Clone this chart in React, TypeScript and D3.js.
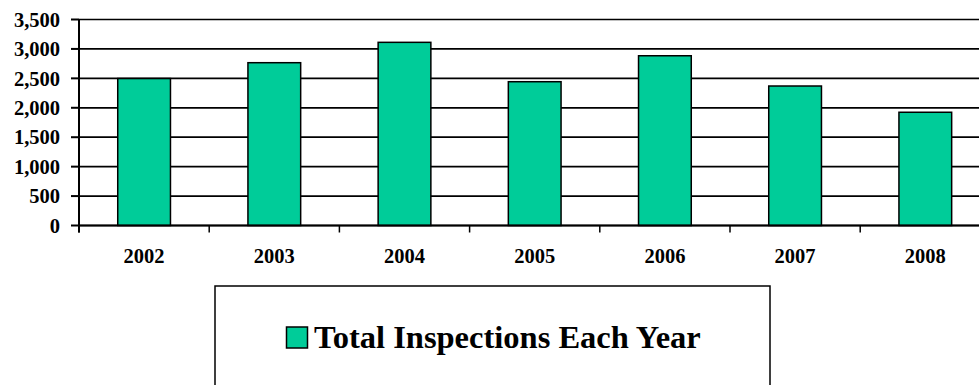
import React from "react";
import * as d3 from "d3";

const years = ["2002", "2003", "2004", "2005", "2006", "2007", "2008"];
const inspections = [2497, 2766, 3112, 2443, 2884, 2370, 1924];
const yTicks = [0, 500, 1000, 1500, 2000, 2500, 3000, 3500];
const legendLabel = "Total Inspections Each Year";

const W = 979;
const H = 385;
const FILL = "#00CC99";
const FONT = "'Liberation Serif', 'Times New Roman', serif";

export default function App() {
  const x0 = 79;
  const step = 130.2;
  const x = d3.scaleBand<string>().domain(years).range([x0, x0 + step * years.length]).padding(0);
  const y = d3.scaleLinear().domain([0, 3500]).range([225.5, 19.5]);
  const barW = x.bandwidth() * 0.405;
  const fmt = d3.format(",");

  return (
    <svg
      width={W}
      height={H}
      style={{ position: "absolute", left: 0, top: 0, display: "block", background: "#fff" }}
    >
      <rect x={0} y={0} width={W} height={H} fill="#fff" />
      {/* gridlines */}
      {yTicks.map((t) => (
        <line key={"g" + t} x1={x0} x2={W + 20} y1={y(t)} y2={y(t)} stroke="#000" strokeWidth={1.7} />
      ))}
      {/* bars */}
      {years.map((yr, i) => {
        const cx = (x(yr) as number) + x.bandwidth() / 2;
        return (
          <rect
            key={yr}
            x={cx - barW / 2}
            y={y(inspections[i])}
            width={barW}
            height={y(0) - y(inspections[i])}
            fill={FILL}
            stroke="#000"
            strokeWidth={1.5}
          />
        );
      })}
      {/* y axis */}
      <line x1={x0} x2={x0} y1={y(3500)} y2={y(0) + 7} stroke="#000" strokeWidth={2} />
      {yTicks.map((t) => (
        <g key={"yt" + t}>
          <line x1={x0 - 8} x2={x0} y1={y(t)} y2={y(t)} stroke="#000" strokeWidth={2} />
          <text
            x={60}
            y={y(t)}
            dy="0.35em"
            textAnchor="end"
            fontFamily={FONT}
            fontWeight="bold"
            fontSize={20.5}
          >
            {fmt(t)}
          </text>
        </g>
      ))}
      {/* x axis */}
      <line x1={x0} x2={W + 20} y1={y(0)} y2={y(0)} stroke="#000" strokeWidth={2} />
      {years.map((yr) => (
        <line
          key={"xt" + yr}
          x1={x(yr) as number}
          x2={x(yr) as number}
          y1={y(0)}
          y2={y(0) + 7}
          stroke="#000"
          strokeWidth={1.5}
        />
      ))}
      {years.map((yr) => (
        <text
          key={"xl" + yr}
          x={(x(yr) as number) + x.bandwidth() / 2}
          y={263}
          textAnchor="middle"
          fontFamily={FONT}
          fontWeight="bold"
          fontSize={20.5}
        >
          {yr}
        </text>
      ))}
      {/* legend */}
      <rect x={215} y={286} width={555} height={140} fill="#fff" stroke="#000" strokeWidth={1.5} />
      <rect x={286.5} y={327} width={21} height={21} fill={FILL} stroke="#000" strokeWidth={1.5} />
      <text x={314} y={347.5} fontFamily={FONT} fontWeight="bold" fontSize={32.5}>
        {legendLabel}
      </text>
    </svg>
  );
}
